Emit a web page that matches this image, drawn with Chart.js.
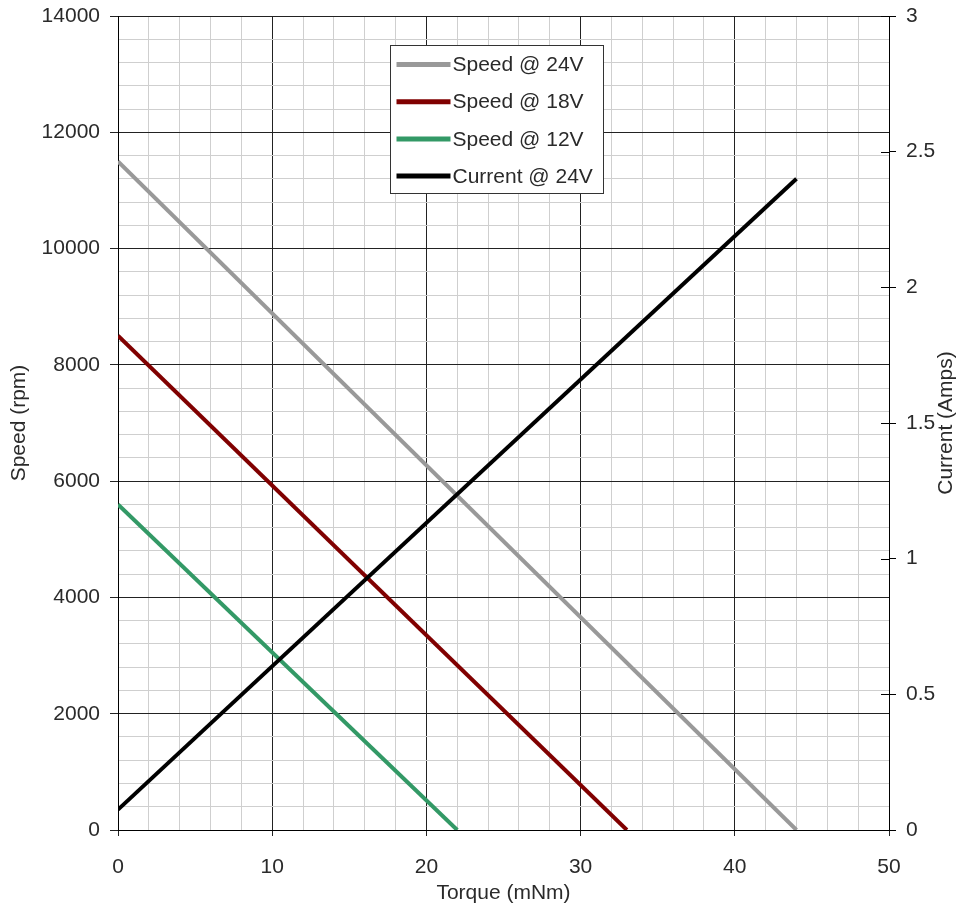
<!DOCTYPE html>
<html>
<head>
<meta charset="utf-8">
<script src="https://cdn.jsdelivr.net/npm/chart.js@4.4.1/dist/chart.umd.min.js"></script>
<style>
  html, body { margin: 0; padding: 0; background: #fff; }
  canvas { display: block; }
</style>
</head>
<body>
<canvas id="c" width="959" height="906"></canvas>
<script>
// ---- data ----
const seriesLabels = ['Speed @ 24V', 'Speed @ 18V', 'Speed @ 12V', 'Current @ 24V'];
const torque24 = [0, 44];
const speed24 = [11500, 0];
const torque18 = [0, 33];
const speed18 = [8500, 0];
const torque12 = [0, 22];
const speed12 = [5600, 0];
const torqueCurrent = [0, 44];
const current24 = [0.075, 2.4];
const xTickLabels = [0, 10, 20, 30, 40, 50];
const speedTickLabels = [0, 2000, 4000, 6000, 8000, 10000, 12000, 14000];
const currentTickLabels = [0, 0.5, 1, 1.5, 2, 2.5, 3];

const FONT = "'Liberation Sans', Arial, sans-serif";
const FS = 21;
const TEXT = '#2a2a2a';

function pts(xs, ys) { return xs.map((x, i) => ({ x: x, y: ys[i] })); }

const colors = ['#999999', '#800000', '#339966', '#000000'];

const datasets = [
  { label: seriesLabels[0], data: pts(torque24, speed24), yAxisID: 'y', borderColor: colors[0], order: 3 },
  { label: seriesLabels[1], data: pts(torque18, speed18), yAxisID: 'y', borderColor: colors[1], order: 2 },
  { label: seriesLabels[2], data: pts(torque12, speed12), yAxisID: 'y', borderColor: colors[2], order: 1 },
  { label: seriesLabels[3], data: pts(torqueCurrent, current24), yAxisID: 'y1', borderColor: colors[3], order: 0 }
].map(d => Object.assign(d, {
  showLine: true, borderWidth: 4, pointRadius: 0, borderCapStyle: 'butt',
  backgroundColor: d.borderColor, fill: false, tension: 0
}));

const isMajor = (v, step) => Math.abs(v / step - Math.round(v / step)) < 1e-6;

const extras = {
  id: 'extras',
  afterDraw(chart) {
    const c = chart.ctx, a = chart.chartArea;
    c.save();
    // inner part of right-axis ticks
    const y1 = chart.scales.y1;
    c.strokeStyle = '#000'; c.lineWidth = 1;
    y1.ticks.forEach(t => {
      const py = Math.round(y1.getPixelForValue(t.value)) + 0.5;
      c.beginPath(); c.moveTo(a.right - 8, py); c.lineTo(a.right, py); c.stroke();
    });
    // axis titles
    c.fillStyle = TEXT;
    c.font = FS + 'px ' + FONT;
    c.textAlign = 'center'; c.textBaseline = 'middle';
    const cy = (a.top + a.bottom) / 2;
    c.save(); c.translate(19, cy); c.rotate(-Math.PI / 2); c.fillText('Speed (rpm)', 0, 0); c.restore();
    c.save(); c.translate(946, cy); c.rotate(-Math.PI / 2); c.fillText('Current (Amps)', 0, 0); c.restore();
    c.fillText('Torque (mNm)', (a.left + a.right) / 2, 893);
    // legend
    const lx = a.left + 272.5, ly = a.top + 29.5, lw = 213, lh = 148;
    c.fillStyle = '#fff'; c.fillRect(lx, ly, lw, lh);
    c.strokeStyle = '#333'; c.lineWidth = 1; c.strokeRect(lx, ly, lw, lh);
    chart.data.datasets.forEach((d, i) => {
      const yy = ly + 19 + i * 37.2;
      c.strokeStyle = d.borderColor; c.lineWidth = 5; c.lineCap = 'butt';
      c.beginPath(); c.moveTo(lx + 6, yy); c.lineTo(lx + 60, yy); c.stroke();
      c.fillStyle = TEXT; c.textAlign = 'left'; c.textBaseline = 'middle';
      c.fillText(d.label, lx + 62, yy + 1);
    });
    c.restore();
  }
};

const fitY = w => s => { s.width = w; s.paddingTop = 0; s.paddingBottom = 0; };

new Chart(document.getElementById('c'), {
  type: 'scatter',
  data: { datasets: datasets },
  options: {
    responsive: false, animation: false, devicePixelRatio: 1,
    layout: { padding: { top: 16, left: 0, right: 0, bottom: 0 } },
    plugins: { legend: { display: false }, tooltip: { enabled: false } },
    scales: {
      x: {
        type: 'linear', position: 'bottom', min: 0, max: 50,
        afterFit: s => { s.height = 76; s.paddingLeft = 0; s.paddingRight = 0; },
        ticks: {
          stepSize: 2, autoSkip: false, maxRotation: 0, padding: 19,
          color: TEXT, font: { family: FONT, size: FS },
          callback: v => xTickLabels.includes(v) ? String(v) : ''
        },
        grid: {
          color: ctx => isMajor(ctx.tick.value, 10) ? '#222' : '#cfcfcf',
          tickColor: ctx => isMajor(ctx.tick.value, 10) ? '#222' : 'rgba(0,0,0,0)',
          tickLength: 6, lineWidth: 1
        },
        border: { color: '#000', width: 1 }
      },
      y: {
        type: 'linear', position: 'left', min: 0, max: 14000,
        afterFit: fitY(118),
        ticks: {
          stepSize: 400, autoSkip: false, padding: 10,
          color: TEXT, font: { family: FONT, size: FS },
          callback: v => speedTickLabels.includes(v) ? String(v) : ''
        },
        grid: {
          color: ctx => isMajor(ctx.tick.value, 2000) ? '#222' : '#cfcfcf',
          tickColor: ctx => isMajor(ctx.tick.value, 2000) ? '#222' : 'rgba(0,0,0,0)',
          tickLength: 8, lineWidth: 1
        },
        border: { color: '#000', width: 1 }
      },
      y1: {
        type: 'linear', position: 'right', min: 0, max: 3,
        afterFit: fitY(70),
        ticks: {
          stepSize: 0.5, autoSkip: false, padding: 10,
          color: TEXT, font: { family: FONT, size: FS },
          callback: v => currentTickLabels.includes(v) ? String(v) : ''
        },
        grid: { drawOnChartArea: false, tickLength: 7, color: '#000', tickColor: '#000' },
        border: { color: '#000', width: 1 }
      }
    }
  },
  plugins: [extras]
});
</script>
</body>
</html>
